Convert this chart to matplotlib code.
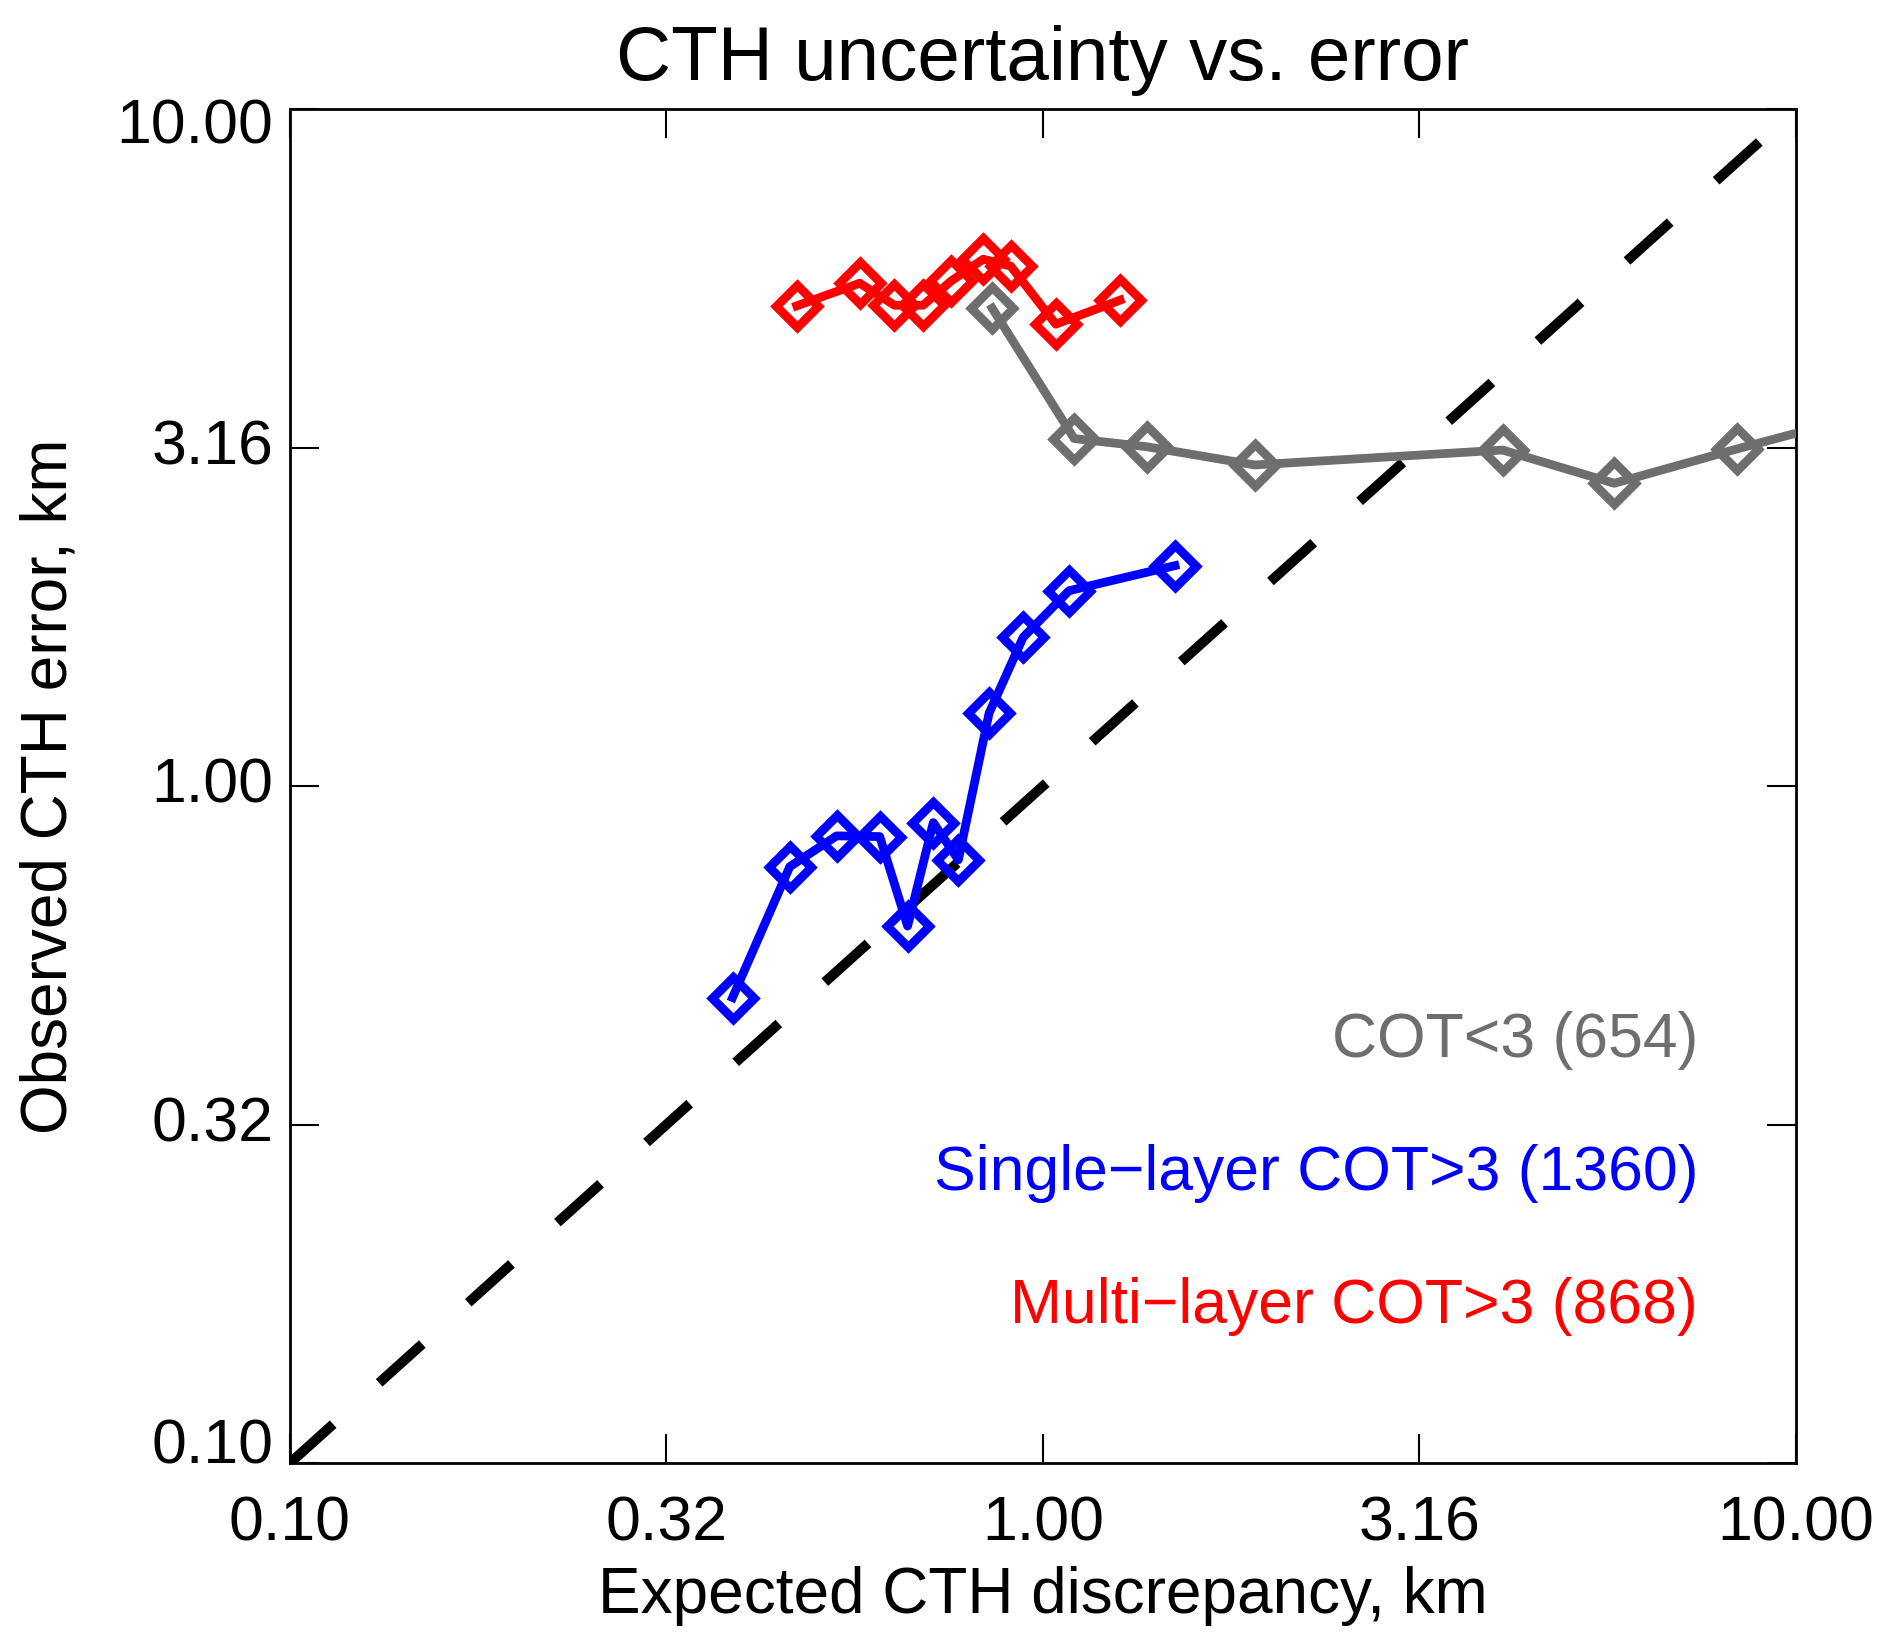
import matplotlib
matplotlib.use("Agg")
import matplotlib.pyplot as plt
from matplotlib.transforms import blended_transform_factory, ScaledTranslation

plt.rcParams['font.family'] = ['Liberation Sans', 'DejaVu Sans']

# ---- data ----
grey_x = [0.856, 1.100, 1.375, 1.910, 4.078, 5.737, 8.342, 12.9]
grey_y = [5.08, 3.26, 3.17, 2.98, 3.135, 2.80, 3.146, 3.58]

blue_x = [0.387, 0.461, 0.532, 0.607, 0.661, 0.715, 0.772, 0.848, 0.941, 1.083, 1.497]
blue_y = [0.487, 0.760, 0.844, 0.842, 0.621, 0.883, 0.778, 1.281, 1.658, 1.943, 2.116]

red_x = [0.471, 0.571, 0.635, 0.693, 0.755, 0.833, 0.906, 1.040, 1.266]
red_y = [5.12, 5.53, 5.13, 5.13, 5.57, 6.00, 5.86, 4.81, 5.22]

one_to_one = [0.1, 10.0]

tick_vals = [0.1, 0.316, 1.0, 3.16, 10.0]
tick_labels = ["0.10", "0.32", "1.00", "3.16", "10.00"]

legend_texts = ["COT<3 (654)", "Single\u2212layer COT>3 (1360)", "Multi\u2212layer COT>3 (868)"]

GREY = '#6e6e6e'
BLUE = '#0000ff'
RED = '#ff0000'
legend_colors = [GREY, BLUE, RED]

W, H = 1892, 1645
fig = plt.figure(figsize=(W / 100, H / 100), dpi=100)
L, R, T, B = 290, 1796, 109, 1463
ax = fig.add_axes([L / W, 1 - B / H, (R - L) / W, (B - T) / H])
ax.set_xscale('log')
ax.set_yscale('log')
ax.set_xlim(0.1, 10)
ax.set_ylim(0.1, 10)

# 1:1 dashed line
ax.plot(one_to_one, one_to_one, color='black', lw=7.2, dashes=(41.8 / 7.2, 44.5 / 7.2),
        solid_capstyle='butt', dash_capstyle='butt', zorder=2)

mk = dict(marker='D', markersize=21, markerfacecolor='none', markeredgewidth=6.4, lw=6.3)
ax.plot(grey_x, grey_y, color=GREY, markeredgecolor=GREY, zorder=3, **mk)
ax.plot(blue_x, blue_y, color=BLUE, markeredgecolor=BLUE, zorder=4, **mk)
ax.plot(red_x, red_y, color=RED, markeredgecolor=RED, zorder=5, **mk)

for s in ax.spines.values():
    s.set_linewidth(2.0)

ax.minorticks_off()
ax.set_xticks(tick_vals)
ax.set_xticklabels(tick_labels)
ax.set_yticks(tick_vals)
ax.set_yticklabels([])
ax.tick_params(which='both', direction='in', length=21, width=1.5, top=True, right=True,
               labelsize=45, pad=23)
ax.minorticks_off()

# y tick labels (IDL keeps the extreme ones inside the axis range)
ytr = blended_transform_factory(ax.transAxes, ax.transData)
n = len(tick_vals)
for i, (v, lab) in enumerate(zip(tick_vals, tick_labels)):
    dy = 0.0
    if i == 0:
        dy = 16 / 100
    elif i == n - 1:
        dy = -18 / 100
    tr = ytr + ScaledTranslation(-17 / 100, dy, fig.dpi_scale_trans)
    ax.text(0, v, lab, transform=tr, ha='right', va='center', fontsize=45)

# title and axis labels
fig.text(((L + R) / 2) / W, 1 - 80 / H, "CTH uncertainty vs. error", ha='center',
         va='baseline', fontsize=55)
fig.text(((L + R) / 2) / W, 1 - 1613 / H, "Expected CTH discrepancy, km", ha='center',
         va='baseline', fontsize=46)
fig.text(50 / W, 1 - ((T + B) / 2) / H, "Observed CTH error, km", ha='center',
         va='center', rotation=90, fontsize=46)

# coloured legend text
baselines = [1057, 1190, 1323]
for txt, c, yb in zip(legend_texts, legend_colors, baselines):
    fig.text(1698 / W, 1 - yb / H, txt, color=c, ha='right', va='baseline', fontsize=45)

fig.savefig('out.png', dpi=100)
